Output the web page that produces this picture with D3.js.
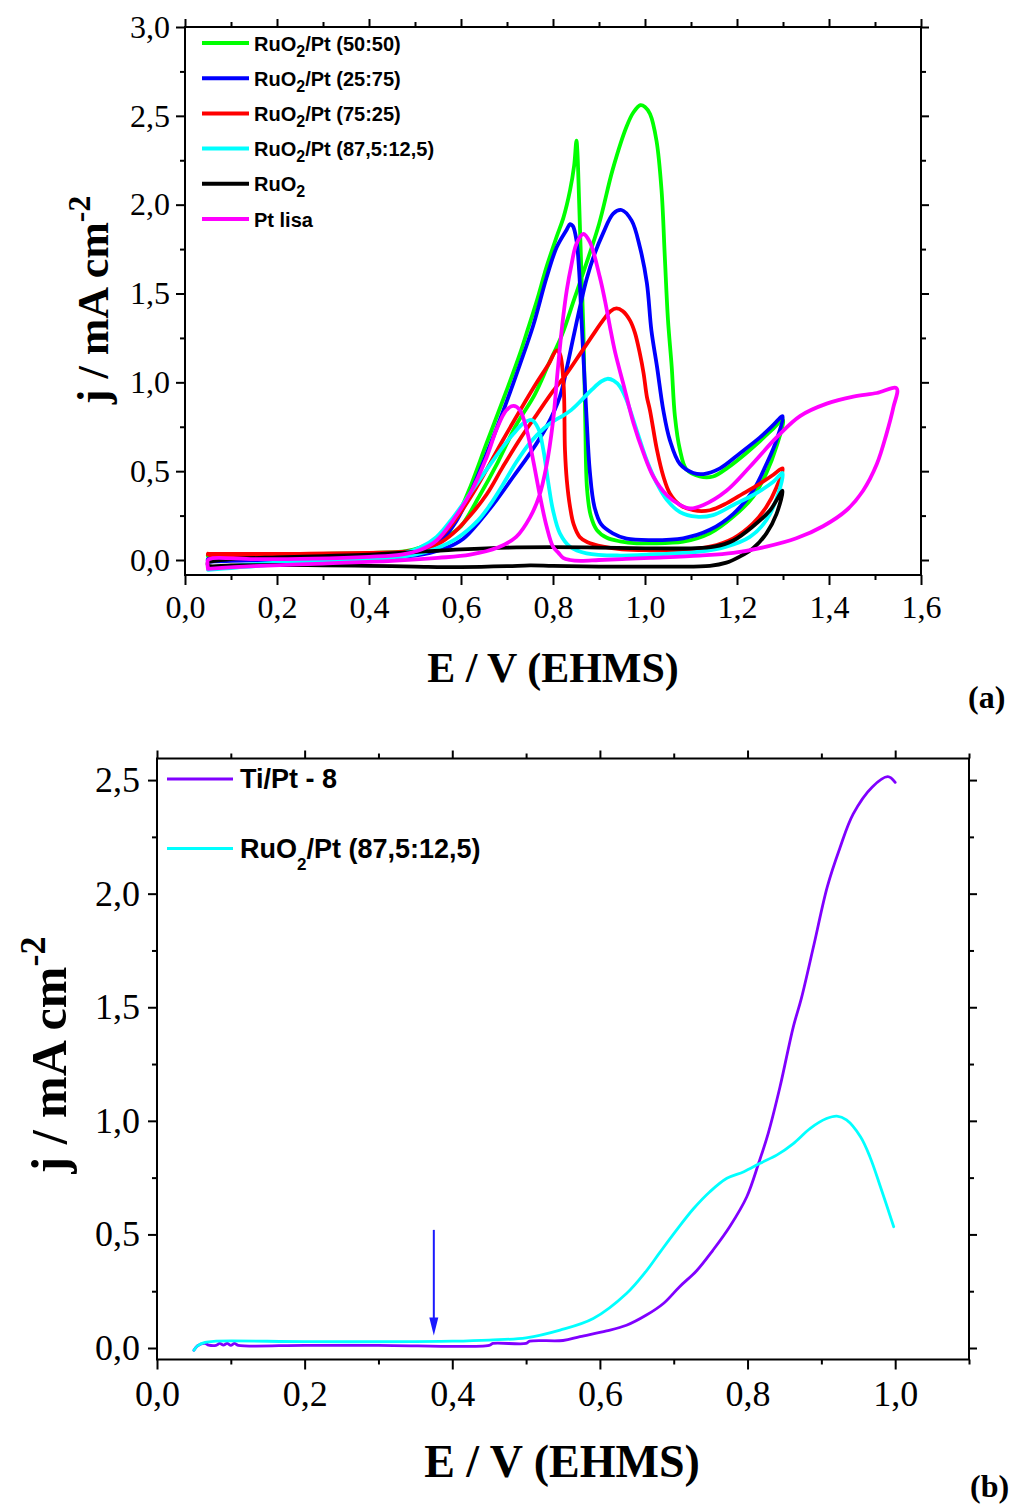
<!DOCTYPE html>
<html><head><meta charset="utf-8">
<script src="https://cdn.jsdelivr.net/npm/d3@7"></script>
<style>body{margin:0;background:#fff}svg{display:block}</style>
</head><body>
<svg id="c" width="1013" height="1504"></svg>
<script>
// ---------- DATA (E / V, j / mA cm-2), cyclic voltammograms, path order ----------
const green5050 = [[0.05,0.03],[0.05,0.02],[0.1,0.025],[0.2,0.027],[0.3,0.03],[0.4,0.035],[0.45,0.04],[0.5,0.055],[0.53,0.075],[0.56,0.11],[0.58,0.15],[0.60,0.19],[0.64,0.36],[0.68,0.55],[0.72,0.76],[0.76,0.93],[0.79,1.10],[0.82,1.27],[0.845,1.46],[0.87,1.65],[0.90,1.89],[0.93,2.2],[0.96,2.44],[0.975,2.52],[0.99,2.56],[1.0,2.55],[1.011,2.51],[1.025,2.36],[1.036,2.08],[1.043,1.71],[1.05,1.35],[1.058,1.09],[1.065,0.81],[1.076,0.62],[1.09,0.51],[1.119,0.47],[1.148,0.47],[1.18,0.52],[1.21,0.58],[1.25,0.67],[1.279,0.74],[1.3,0.79],
  [1.286,0.64],[1.264,0.49],[1.235,0.356],[1.192,0.244],[1.141,0.15],[1.083,0.103],[1.011,0.094],[0.982,0.094],[0.946,0.105],[0.917,0.125],[0.895,0.17],[0.882,0.25],[0.874,0.4],[0.87,0.8],[0.866,1.3],[0.862,1.6],[0.857,2.0],[0.853,2.3],[0.851,2.36],[0.846,2.22],[0.837,2.08],[0.823,1.93],[0.808,1.82],[0.786,1.65],[0.765,1.46],[0.743,1.28],[0.728,1.16],[0.70,0.96],[0.656,0.66],[0.62,0.41],[0.60,0.29],[0.58,0.2],[0.547,0.12],[0.511,0.07],[0.48,0.05],[0.4,0.04],[0.3,0.035],[0.2,0.032],[0.1,0.03],[0.05,0.03]];
const blue2575 = [[0.05,-0.01],[0.1,-0.005],[0.2,0.0],[0.3,0.005],[0.4,0.01],[0.5,0.025],[0.533,0.04],[0.57,0.07],[0.605,0.12],[0.641,0.22],[0.678,0.34],[0.714,0.47],[0.75,0.60],[0.786,0.75],[0.815,0.92],[0.83,1.08],[0.844,1.25],[0.86,1.44],[0.873,1.58],[0.89,1.72],[0.909,1.84],[0.931,1.95],[0.949,1.97],[0.971,1.91],[0.989,1.76],[1.004,1.56],[1.014,1.29],[1.026,1.09],[1.04,0.84],[1.054,0.675],[1.076,0.54],[1.105,0.49],[1.127,0.484],[1.163,0.516],[1.206,0.60],[1.25,0.69],[1.279,0.76],[1.299,0.81],
  [1.286,0.675],[1.264,0.54],[1.235,0.39],[1.192,0.26],[1.141,0.17],[1.083,0.122],[1.011,0.112],[0.96,0.12],[0.93,0.15],[0.905,0.2],[0.89,0.3],[0.88,0.5],[0.873,0.8],[0.867,1.1],[0.862,1.35],[0.857,1.62],[0.851,1.8],[0.843,1.88],[0.837,1.89],[0.83,1.86],[0.808,1.76],[0.786,1.59],[0.757,1.32],[0.728,1.10],[0.692,0.84],[0.656,0.60],[0.62,0.375],[0.59,0.22],[0.56,0.12],[0.53,0.07],[0.5,0.045],[0.45,0.03],[0.35,0.02],[0.2,0.01],[0.1,0.005],[0.05,0.005],[0.05,-0.01]];
const red7525 = [[0.05,0.035],[0.05,0.03],[0.2,0.03],[0.35,0.035],[0.45,0.04],[0.5,0.05],[0.55,0.09],[0.583,0.15],[0.62,0.25],[0.656,0.37],[0.69,0.52],[0.728,0.68],[0.765,0.82],[0.80,0.95],[0.83,1.05],[0.859,1.16],[0.885,1.26],[0.909,1.35],[0.925,1.40],[0.938,1.416],[0.952,1.40],[0.967,1.35],[0.978,1.28],[0.989,1.16],[0.997,1.05],[1.004,0.92],[1.011,0.84],[1.026,0.62],[1.04,0.47],[1.054,0.375],[1.076,0.31],[1.105,0.28],[1.141,0.28],[1.178,0.32],[1.214,0.375],[1.25,0.43],[1.279,0.48],[1.299,0.516],
  [1.286,0.41],[1.264,0.30],[1.235,0.206],[1.192,0.122],[1.141,0.075],[1.083,0.056],[1.011,0.055],[0.95,0.06],[0.909,0.075],[0.875,0.1],[0.858,0.13],[0.845,0.2],[0.837,0.30],[0.83,0.45],[0.826,0.62],[0.823,0.99],[0.815,1.16],[0.808,1.18],[0.79,1.10],[0.765,1.0],[0.728,0.84],[0.69,0.67],[0.656,0.51],[0.62,0.35],[0.583,0.21],[0.547,0.11],[0.511,0.06],[0.47,0.045],[0.4,0.04],[0.25,0.035],[0.05,0.035]];
const cyan875 = [[0.05,-0.055],[0.1,-0.035],[0.2,-0.015],[0.3,-0.005],[0.4,0.005],[0.45,0.015],[0.5,0.03],[0.546,0.065],[0.59,0.12],[0.636,0.22],[0.663,0.31],[0.69,0.42],[0.72,0.55],[0.75,0.66],[0.78,0.74],[0.80,0.78],[0.82,0.81],[0.84,0.845],[0.862,0.90],[0.885,0.96],[0.905,1.005],[0.918,1.02],[0.932,1.01],[0.946,0.975],[0.96,0.90],[0.982,0.73],[1.004,0.56],[1.026,0.43],[1.047,0.34],[1.076,0.27],[1.112,0.244],[1.148,0.253],[1.192,0.31],[1.235,0.366],[1.279,0.44],[1.299,0.49],
  [1.29,0.375],[1.264,0.225],[1.228,0.13],[1.177,0.075],[1.119,0.047],[1.047,0.035],[0.946,0.025],[0.873,0.0375],[0.837,0.075],[0.815,0.15],[0.80,0.28],[0.79,0.43],[0.779,0.62],[0.768,0.74],[0.754,0.788],[0.736,0.77],[0.714,0.71],[0.692,0.64],[0.656,0.51],[0.62,0.375],[0.583,0.24],[0.547,0.13],[0.511,0.07],[0.47,0.035],[0.4,0.01],[0.3,-0.01],[0.2,-0.025],[0.1,-0.045],[0.05,-0.055]];
const ruo2 = [[0.05,-0.01],[0.1,0.005],[0.2,0.015],[0.3,0.022],[0.4,0.03],[0.5,0.045],[0.6,0.06],[0.7,0.07],[0.8,0.072],[0.9,0.07],[1.0,0.066],[1.1,0.066],[1.15,0.075],[1.192,0.11],[1.235,0.19],[1.272,0.28],[1.299,0.39],
  [1.286,0.26],[1.264,0.15],[1.235,0.066],[1.206,0.019],[1.177,-0.015],[1.141,-0.033],[1.05,-0.037],[0.9,-0.037],[0.8,-0.033],[0.75,-0.03],[0.7,-0.035],[0.6,-0.04],[0.5,-0.037],[0.4,-0.033],[0.3,-0.03],[0.2,-0.028],[0.1,-0.03],[0.05,-0.03],[0.05,-0.01]];
const ptLisa = [[0.05,-0.05],[0.15,-0.035],[0.3,-0.02],[0.45,-0.005],[0.55,0.012],[0.62,0.03],[0.68,0.07],[0.72,0.13],[0.75,0.24],[0.77,0.36],[0.785,0.52],[0.80,0.78],[0.81,1.06],[0.82,1.32],[0.83,1.52],[0.84,1.66],[0.851,1.78],[0.866,1.835],[0.88,1.79],[0.902,1.59],[0.913,1.46],[0.924,1.31],[0.935,1.17],[0.953,0.99],[0.975,0.77],[0.997,0.60],[1.018,0.47],[1.047,0.366],[1.076,0.31],[1.098,0.29],[1.127,0.31],[1.177,0.39],[1.228,0.525],[1.286,0.69],[1.337,0.81],[1.395,0.88],[1.453,0.92],[1.504,0.94],[1.547,0.966],
  [1.54,0.86],[1.525,0.71],[1.504,0.54],[1.474,0.39],[1.438,0.28],[1.387,0.19],[1.329,0.122],[1.264,0.075],[1.192,0.04],[1.119,0.025],[1.011,0.012],[0.95,0.005],[0.9,0.0],[0.86,-0.005],[0.837,0.0],[0.822,0.012],[0.812,0.04],[0.80,0.075],[0.786,0.19],[0.772,0.356],[0.757,0.56],[0.743,0.73],[0.728,0.844],[0.714,0.867],[0.699,0.844],[0.678,0.74],[0.656,0.58],[0.62,0.375],[0.583,0.225],[0.547,0.11],[0.511,0.056],[0.47,0.03],[0.4,0.018],[0.28,0.008],[0.15,0.005],[0.06,0.01],[0.05,0.0],[0.05,-0.05]];

const tiPt8 = [[0.05,-0.01],[0.055,0.01],[0.065,0.02],[0.07,0.013],[0.08,0.012],[0.085,0.02],[0.09,0.013],[0.095,0.02],[0.1,0.012],[0.105,0.02],[0.11,0.012],[0.2,0.012],[0.3,0.012],[0.45,0.012],[0.455,0.02],[0.5,0.02],[0.505,0.03],[0.55,0.033],[0.573,0.05],[0.609,0.075],[0.636,0.10],[0.663,0.145],[0.686,0.196],[0.708,0.27],[0.731,0.34],[0.753,0.43],[0.776,0.535],[0.799,0.666],[0.815,0.813],[0.828,0.945],[0.844,1.15],[0.862,1.414],[0.873,1.54],[0.89,1.776],[0.908,2.03],[0.925,2.2],[0.943,2.35],[0.969,2.47],[0.99,2.515],[1.0,2.49]];
const ruo2pt875LSV = [[0.05,-0.01],[0.055,0.01],[0.065,0.025],[0.08,0.03],[0.2,0.028],[0.35,0.028],[0.4,0.03],[0.45,0.035],[0.5,0.045],[0.546,0.079],[0.591,0.13],[0.636,0.24],[0.663,0.34],[0.681,0.42],[0.704,0.52],[0.727,0.614],[0.749,0.688],[0.772,0.747],[0.795,0.776],[0.817,0.813],[0.84,0.85],[0.862,0.90],[0.885,0.967],[0.907,1.01],[0.921,1.021],[0.934,1.004],[0.953,0.93],[0.966,0.84],[0.98,0.71],[0.998,0.534]];

const topXTicks = [0,0.2,0.4,0.6,0.8,1.0,1.2,1.4,1.6];
const topXMinor = [0.1,0.3,0.5,0.7,0.9,1.1,1.3,1.5];
const topYTicks = [0,0.5,1.0,1.5,2.0,2.5,3.0];
const topYMinor = [0.25,0.75,1.25,1.75,2.25,2.75];
const botXTicks = [0,0.2,0.4,0.6,0.8,1.0];
const botXMinor = [0.1,0.3,0.5,0.7,0.9,1.1];
const botYTicks = [0,0.5,1.0,1.5,2.0,2.5];
const botYMinor = [0.25,0.75,1.25,1.75,2.25];

const arrowE = 0.375, arrowFromJ = 0.52, arrowToJ = 0.055;

const topSeries = [
  {name:["RuO","2","/Pt (50:50)"], data:green5050, color:"#00ff00"},
  {name:["RuO","2","/Pt (25:75)"], data:blue2575, color:"#0000ff"},
  {name:["RuO","2","/Pt (75:25)"], data:red7525, color:"#ff0000"},
  {name:["RuO","2","/Pt (87,5:12,5)"], data:cyan875, color:"#00ffff"},
  {name:["RuO","2",""], data:ruo2, color:"#000000"},
  {name:["Pt lisa","",""], data:ptLisa, color:"#ff00ff"}
];
const botSeries = [
  {name:["Ti/Pt - 8","",""], data:tiPt8, color:"#8000ff"},
  {name:["RuO","2","/Pt (87,5:12,5)"], data:ruo2pt875LSV, color:"#00ffff"}
];

// ---------- DRAWING ----------
const svg = d3.select("#c");
const serif = "'Liberation Serif','Times New Roman',serif";
const sans = "'Liberation Sans',Arial,sans-serif";
const fmt = v => d3.format(".1f")(v).replace(".", ",");

function panel(c) {
  const x = d3.scaleLinear().domain(c.xDom).range(c.xRange);
  const y = d3.scaleLinear().domain(c.yDom).range(c.yRange);
  const g = svg.append("g");
  const [x0,x1] = c.xRange, [y0,y1] = [c.yRange[1], c.yRange[0]];

  function ax(gen, tr, vals, size, pad, labels, fs) {
    const a = g.append("g").attr("transform", tr)
      .call(gen.tickValues(vals).tickSize(size).tickSizeOuter(0).tickPadding(pad)
        .tickFormat(labels ? fmt : ""));
    a.select(".domain").remove();
    a.selectAll("line").attr("stroke","#000").attr("stroke-width",2);
    a.selectAll("text").attr("font-family", serif).attr("font-size", fs).attr("fill","#000");
    return a;
  }
  ax(d3.axisBottom(x), `translate(0,${y1})`, c.xTicks, 10, c.xPad, true, c.tickFs);
  ax(d3.axisBottom(x), `translate(0,${y1})`, c.xMinor, 5, 0, false, c.tickFs);
  ax(d3.axisTop(x), `translate(0,${y0})`, c.xTicks, 8, 0, false, c.tickFs);
  ax(d3.axisTop(x), `translate(0,${y0})`, c.xMinor, 5, 0, false, c.tickFs);
  ax(d3.axisLeft(y), `translate(${x0},0)`, c.yTicks, 9, c.yPad, true, c.tickFs);
  ax(d3.axisLeft(y), `translate(${x0},0)`, c.yMinor, 5, 0, false, c.tickFs);
  ax(d3.axisRight(y), `translate(${x1},0)`, c.yTicks, 8, 0, false, c.tickFs);
  ax(d3.axisRight(y), `translate(${x1},0)`, c.yMinor, 5, 0, false, c.tickFs);

  const line = d3.line().x(d => x(d[0])).y(d => y(d[1])).curve(c.curve);
  c.series.forEach(s => {
    g.append("path").datum(s.data).attr("d", line)
      .attr("fill","none").attr("stroke", s.color).attr("stroke-width", c.lw)
      .attr("stroke-linejoin","round").attr("stroke-linecap","round");
  });

  g.append("rect").attr("x",x0).attr("y",y0).attr("width",x1-x0).attr("height",y1-y0)
    .attr("fill","none").attr("stroke","#000").attr("stroke-width",2);

  // axis titles
  g.append("text").attr("x", c.xTitle[0]).attr("y", c.xTitle[1])
    .attr("text-anchor","middle").attr("font-family", serif).attr("font-weight","bold")
    .attr("font-size", c.titleFs).text("E / V (EHMS)");
  const yt = g.append("text").attr("transform", `translate(${c.yTitle[0]},${c.yTitle[1]}) rotate(-90)`)
    .attr("text-anchor","middle").attr("font-family", serif).attr("font-weight","bold")
    .attr("font-size", c.yTitleFs);
  yt.append("tspan").text("j / mA cm");
  yt.append("tspan").attr("dy", -c.yTitleFs*0.42).attr("font-size", c.yTitleFs*0.72).text("-2");

  // legend
  c.series.forEach((s,i) => {
    const cy = c.leg.y0 + i*c.leg.dy;
    g.append("line").attr("x1", c.leg.x1).attr("x2", c.leg.x2).attr("y1", cy).attr("y2", cy)
      .attr("stroke", s.color).attr("stroke-width", c.leg.lw);
    const t = g.append("text").attr("x", c.leg.tx).attr("y", cy + c.leg.base)
      .attr("font-family", sans).attr("font-weight","bold").attr("font-size", c.leg.fs);
    t.append("tspan").text(s.name[0]);
    if (s.name[1]) {
      t.append("tspan").attr("dy", c.leg.subDy).attr("font-size", c.leg.subFs).text(s.name[1]);
      t.append("tspan").attr("dy", -c.leg.subDy).text(s.name[2]);
    }
  });
  return {x, y, g};
}

panel({
  xDom:[0,1.6], xRange:[185,921], yDom:[-0.0844,3.0], yRange:[575,27],
  xTicks:topXTicks, xMinor:topXMinor, yTicks:topYTicks, yMinor:topYMinor,
  tickFs:32, xPad:10, yPad:6, series:topSeries, lw:3.8, curve:d3.curveCatmullRom.alpha(0.5),
  xTitle:[553,682], titleFs:42, yTitle:[108,300], yTitleFs:44,
  leg:{x1:202,x2:249,tx:254,y0:43,dy:35.2,base:7.5,fs:20,subFs:16,subDy:6,lw:4}
});
const B = panel({
  xDom:[0,1.1], xRange:[157,969], yDom:[-0.0506,2.595], yRange:[1359.5,758.5],
  xTicks:botXTicks, xMinor:botXMinor, yTicks:botYTicks, yMinor:botYMinor,
  tickFs:36, xPad:11, yPad:8, series:botSeries, lw:2.8, curve:d3.curveCatmullRom.alpha(0.5),
  xTitle:[562,1477], titleFs:46, yTitle:[66,1055], yTitleFs:50,
  leg:{x1:167,x2:233,tx:240,y0:779,dy:69.5,base:9,fs:27,subFs:17,subDy:12,lw:3}
});

// arrow in panel (b)
const ax_ = B.x(arrowE), ya = B.y(arrowFromJ), yb = B.y(arrowToJ);
B.g.append("line").attr("x1",ax_).attr("x2",ax_).attr("y1",ya).attr("y2",yb-14)
  .attr("stroke","#1a1aff").attr("stroke-width",2);
B.g.append("path").attr("d", `M${ax_-4.5},${yb-18} L${ax_+4.5},${yb-18} L${ax_},${yb} Z`)
  .attr("fill","#1a1aff");

// panel labels
svg.append("text").attr("x",968).attr("y",708).attr("font-family",serif).attr("font-weight","bold")
  .attr("font-size",32).text("(a)");
svg.append("text").attr("x",970).attr("y",1497).attr("font-family",serif).attr("font-weight","bold")
  .attr("font-size",32).text("(b)");
</script>
</body></html>
